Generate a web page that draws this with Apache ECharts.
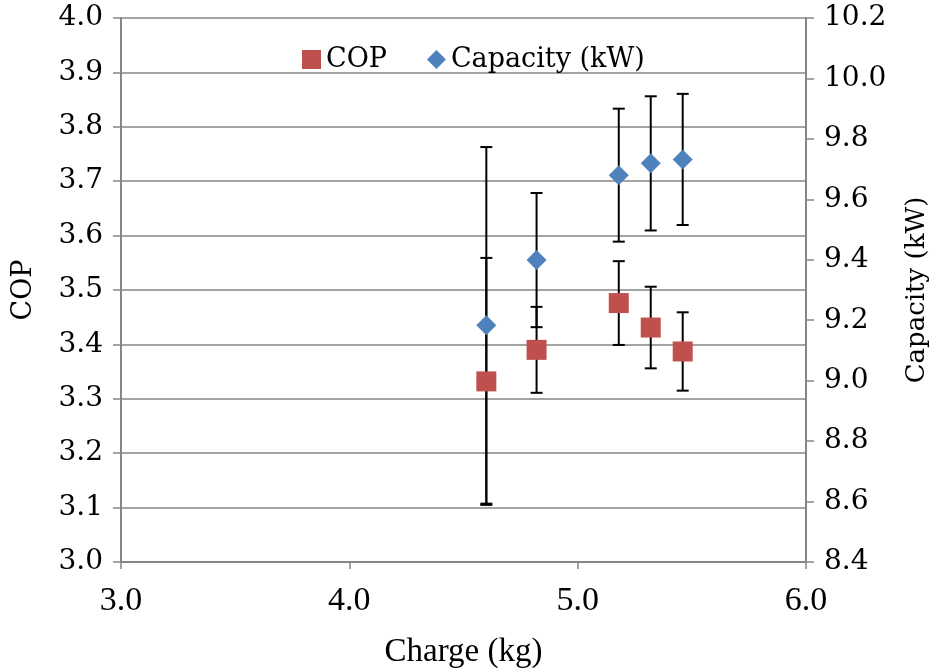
<!DOCTYPE html>
<html>
<head>
<meta charset="utf-8">
<script src="https://cdn.jsdelivr.net/npm/echarts@6/dist/echarts.min.js"></script>
<style>
  html, body { margin: 0; padding: 0; background: #fff; }
  #chart { width: 945px; height: 670px; }
</style>
</head>
<body>
<div id="chart"></div>
<script>
  const charge = [4.60, 4.82, 5.18, 5.32, 5.46];
  const cop = [3.332, 3.390, 3.476, 3.431, 3.387];
  const copErr = [0.227, 0.079, 0.077, 0.075, 0.072];
  const capacity = [9.183, 9.399, 9.680, 9.719, 9.732];
  const capErr = [0.590, 0.222, 0.220, 0.222, 0.217];

  const serif = 'DejaVu Serif';
  const axisGray = '#868686';

  function errRows(ys, errs) {
    return charge.map((x, i) => [x, ys[i] - errs[i], ys[i] + errs[i]]);
  }

  function renderErr(params, api) {
    const lo = api.coord([api.value(0), api.value(1)]);
    const hi = api.coord([api.value(0), api.value(2)]);
    const cap = 6;
    const style = { stroke: '#000', lineWidth: 2 };
    return {
      type: 'group',
      children: [
        { type: 'line', shape: { x1: lo[0], y1: lo[1], x2: hi[0], y2: hi[1] }, style: style },
        { type: 'line', shape: { x1: lo[0] - cap, y1: lo[1], x2: lo[0] + cap, y2: lo[1] }, style: style },
        { type: 'line', shape: { x1: hi[0] - cap, y1: hi[1], x2: hi[0] + cap, y2: hi[1] }, style: style }
      ]
    };
  }

  const chart = echarts.init(document.getElementById('chart'));
  chart.setOption({
    animation: false,
    grid: { left: 121, right: 139, top: 18, bottom: 108, outerBoundsMode: 'none' },
    legend: {
      left: 297,
      top: 41,
      itemWidth: 19,
      itemHeight: 19,
      itemGap: 40,
      textStyle: { fontFamily: serif, fontSize: 27, color: '#000' },
      data: [
        { name: 'COP', icon: 'rect' },
        { name: 'Capacity (kW)', icon: 'diamond' }
      ]
    },
    xAxis: {
      type: 'value',
      min: 3, max: 6, interval: 1,
      name: 'Charge (kg)',
      nameLocation: 'middle',
      nameGap: 74,
      nameTextStyle: { fontFamily: 'Liberation Serif', fontSize: 33, color: '#000' },
      axisLine: { lineStyle: { color: axisGray, width: 2 } },
      axisTick: { show: true, length: 7, lineStyle: { color: axisGray, width: 1.5 } },
      axisLabel: { fontFamily: 'Liberation Serif', fontSize: 34, color: '#000', margin: 22,
        formatter: v => v.toFixed(1) },
      splitLine: { show: false }
    },
    yAxis: [
      {
        type: 'value',
        min: 3, max: 4, interval: 0.1,
        name: 'COP',
        nameLocation: 'middle',
        nameGap: 84,
        nameTextStyle: { fontFamily: serif, fontSize: 27, color: '#000' },
        axisLine: { show: true, lineStyle: { color: axisGray, width: 2 } },
        axisTick: { show: true, length: 8, lineStyle: { color: axisGray, width: 1.5 } },
        axisLabel: { fontFamily: serif, fontSize: 28, color: '#000', margin: 18,
          formatter: v => v.toFixed(1) },
        splitLine: { show: true, lineStyle: { color: axisGray, width: 1.5 } }
      },
      {
        type: 'value',
        min: 8.4, max: 10.2, interval: 0.2,
        name: 'Capacity (kW)',
        nameLocation: 'middle',
        nameGap: 98,
        nameRotate: 90,
        nameTextStyle: { fontFamily: serif, fontSize: 26, color: '#000' },
        axisLine: { show: true, lineStyle: { color: axisGray, width: 2 } },
        axisTick: { show: true, length: 8, lineStyle: { color: axisGray, width: 1.5 } },
        axisLabel: { fontFamily: serif, fontSize: 28, color: '#000', margin: 18,
          formatter: v => v.toFixed(1) },
        splitLine: { show: false }
      }
    ],
    series: [
      {
        type: 'custom',
        name: 'copErr',
        yAxisIndex: 0,
        renderItem: renderErr,
        data: errRows(cop, copErr),
        encode: { x: 0, y: [1, 2] },
        z: 1,
        silent: true
      },
      {
        type: 'custom',
        name: 'capErr',
        yAxisIndex: 1,
        renderItem: renderErr,
        data: errRows(capacity, capErr),
        encode: { x: 0, y: [1, 2] },
        z: 1,
        silent: true
      },
      {
        name: 'COP',
        type: 'scatter',
        yAxisIndex: 0,
        symbol: 'rect',
        symbolSize: 20,
        itemStyle: { color: '#C0504D', opacity: 1 },
        data: charge.map((x, i) => [x, cop[i]]),
        z: 3
      },
      {
        name: 'Capacity (kW)',
        type: 'scatter',
        yAxisIndex: 1,
        symbol: 'diamond',
        symbolSize: 20,
        itemStyle: { color: '#4F81BD', opacity: 1 },
        data: charge.map((x, i) => [x, capacity[i]]),
        z: 3
      }
    ]
  });
</script>
</body>
</html>
